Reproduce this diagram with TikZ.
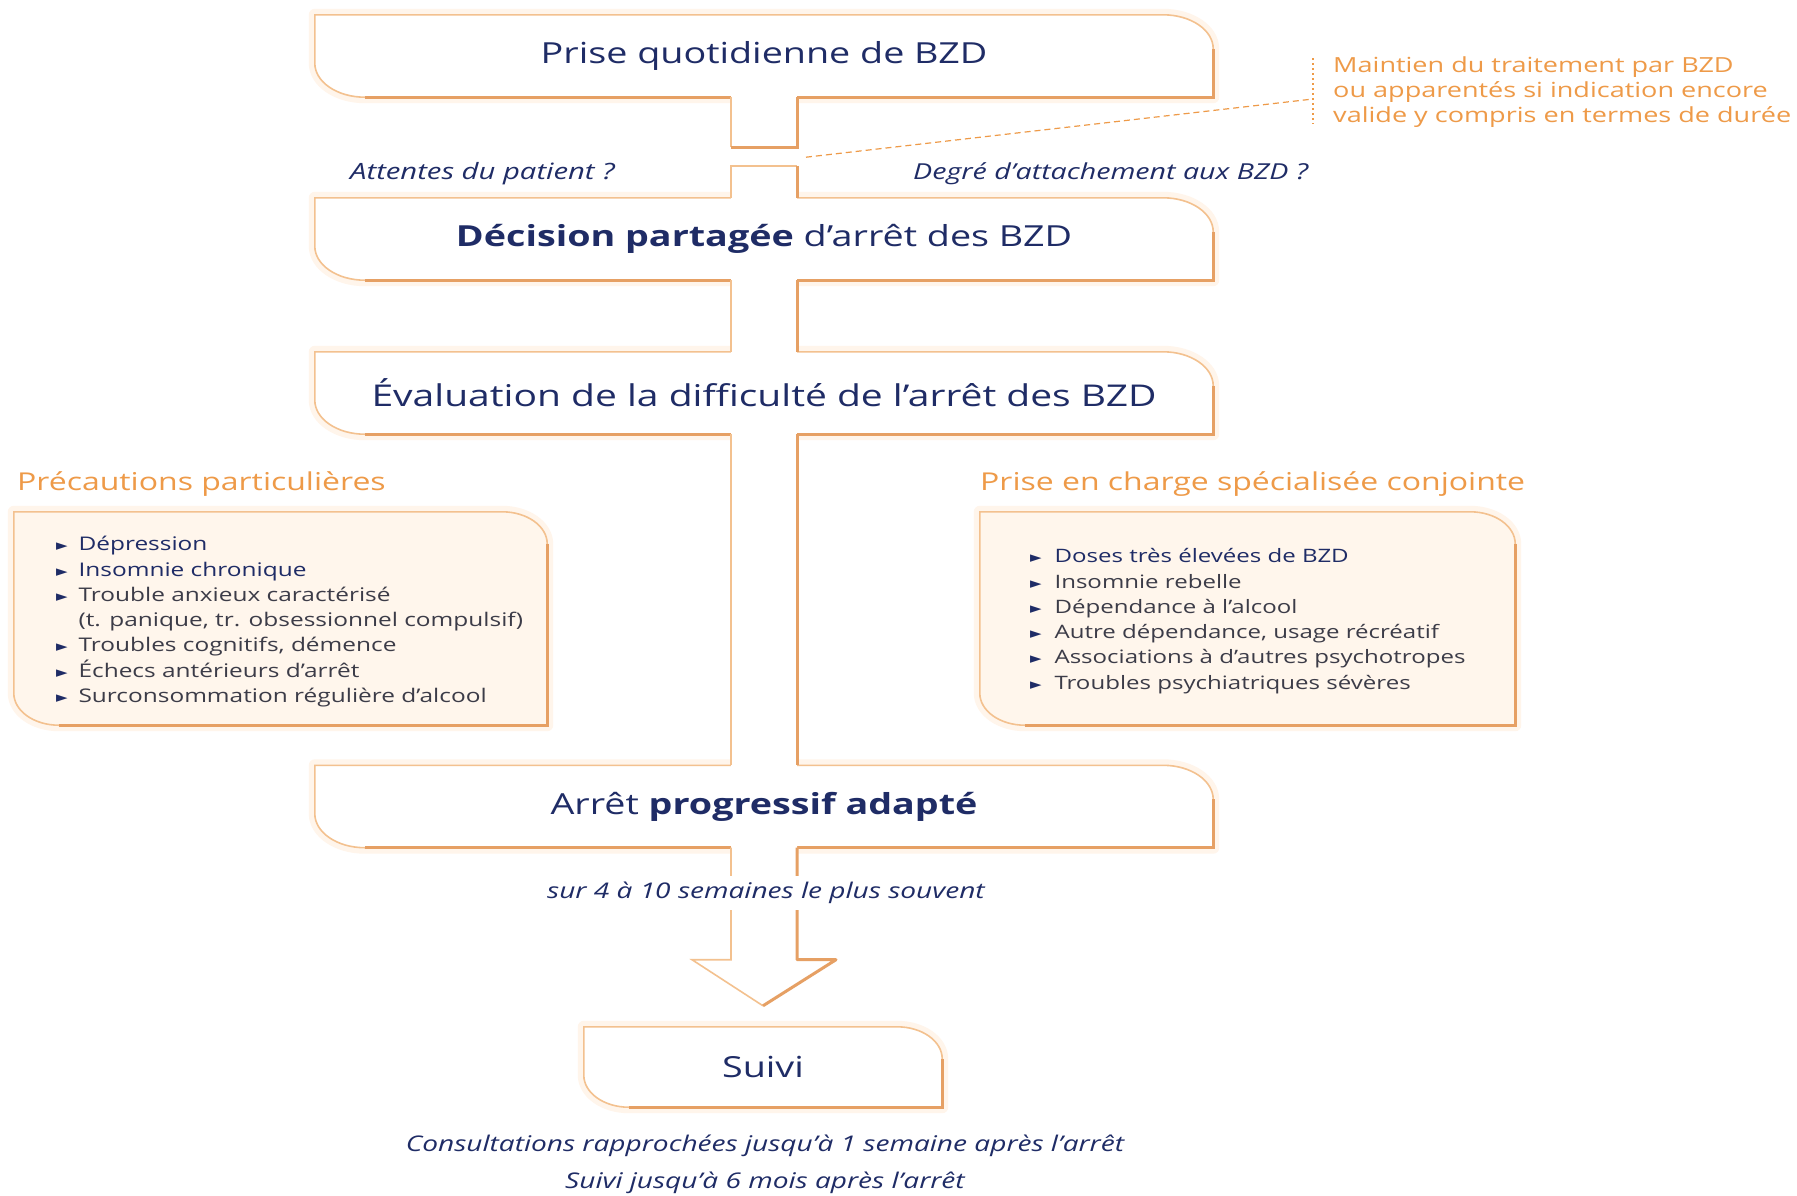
\documentclass[tikz,border=0pt]{standalone}
\usepackage{fontspec}
\setmainfont{Open Sans}[FakeStretch=1.3]
\newfontfamily\symf{DejaVu Sans}
\usetikzlibrary{calc,backgrounds}

\definecolor{navy}{HTML}{1F2C66}
\definecolor{orl}{HTML}{F3C18F}
\definecolor{ord}{HTML}{E6A064}
\definecolor{ort}{HTML}{EE9A48}
\definecolor{peach}{HTML}{FFF6EC}
\definecolor{gtx}{HTML}{3C3C48}

\newcommand\leafbox[4]{%
  \path[draw=orange!8, line width=12pt, line join=round] (#1.north west) -- ($(#1.north east)+(-#2,0)$) arc[start angle=90,end angle=0,x radius=#2,y radius=#3] -- (#1.south east) -- ($(#1.south west)+(#2,0)$) arc[start angle=270,end angle=180,x radius=#2,y radius=#3] -- cycle;
  \path[fill=#4, draw=orl, line width=1.6pt] (#1.north west) -- ($(#1.north east)+(-#2,0)$) arc[start angle=90,end angle=0,x radius=#2,y radius=#3] -- (#1.south east) -- ($(#1.south west)+(#2,0)$) arc[start angle=270,end angle=180,x radius=#2,y radius=#3] -- cycle;
  \draw[ord, line width=3pt] ($(#1.north east)+(0,-#3)$) -- (#1.south east) -- ($(#1.south west)+(#2,0)$);
}
\newcommand\bul{{\symf\fontsize{15}{15}\selectfont\textcolor{navy}{►}}}

\begin{document}
\begin{tikzpicture}[x=1pt,y=1pt,
  mainbox/.style={minimum width=898pt, minimum height=82pt, inner sep=0pt, text=navy, font=\fontsize{29}{34}\selectfont},
  sidebox/.style={minimum height=213pt, inner sep=0pt},
  lbl/.style={inner sep=0pt, text=navy, font=\fontsize{21.6}{26}\selectfont\itshape},
  ttl/.style={inner sep=0pt, text=ort, font=\fontsize{24.6}{29}\selectfont},
  lst/.style={inner sep=0pt, anchor=north west, text=gtx, font=\fontsize{18.5}{25.3}\selectfont},
  thinl/.style={orl, line width=1.6pt},
  thickl/.style={ord, line width=3pt}]
\useasboundingbox (0,0) rectangle (1797,-1195);

% main boxes
\node[mainbox] (b1) at (764,-56) {Prise quotidienne de BZD};
\node[mainbox] (b2) at (764,-239) {\textbf{Décision partagée} d'arrêt des BZD};
\node[mainbox, font=\fontsize{30}{34}\selectfont] (b3) at (764,-393) {Évaluation de la difficulté de l'arrêt des BZD};
\node[mainbox] (b4) at (764,-806.5) {Arrêt \textbf{progressif adapté}};
\node[mainbox, minimum width=358pt, minimum height=80pt] (b5) at (763,-1067) {Suivi};

% side boxes
\node[sidebox, minimum width=533pt] (sl) at (280.5,-618.5) {};
\node[sidebox, minimum width=535pt] (sr) at (1247.5,-618.5) {};
\node[ttl, anchor=west] (tl) at (17,-484) {Précautions particulières};
\node[ttl, anchor=west] (tr) at (980,-484) {Prise en charge spécialisée conjointe};

\node[lst, font=\fontsize{18.8}{25.3}\selectfont] (ll) at ($(sl.north west)+(42,-21)$) {\begin{tabular}{@{}l@{\hspace{11pt}}l@{}}
\bul & \textcolor{navy}{Dépression}\\
\bul & \textcolor{navy}{Insomnie chronique}\\
\bul & Trouble anxieux caractérisé\\
 & (t. panique, tr. obsessionnel compulsif)\\
\bul & Troubles cognitifs, démence\\
\bul & Échecs antérieurs d'arrêt\\
\bul & Surconsommation régulière d'alcool
\end{tabular}};
\node[lst] (rl) at ($(sr.north west)+(50,-33)$) {\begin{tabular}{@{}l@{\hspace{13pt}}l@{}}
\bul & \textcolor{navy}{Doses très élevées de BZD}\\
\bul & Insomnie rebelle\\
\bul & Dépendance à l'alcool\\
\bul & Autre dépendance, usage récréatif\\
\bul & Associations à d'autres psychotropes\\
\bul & Troubles psychiatriques sévères
\end{tabular}};

% labels
\node[lbl, anchor=west, font=\fontsize{22.5}{26}\selectfont\itshape] (q1) at (350,-174) {Attentes du patient ?};
\node[lbl, anchor=west, font=\fontsize{22}{26}\selectfont\itshape] (q2) at (913,-174) {Degré d'attachement aux BZD ?};
\node[lbl, fill=white, inner xsep=4pt, inner ysep=6pt] (dur) at (766,-893) {sur 4 à 10 semaines le plus souvent};
\node[lbl] (c1) at (765,-1146) {Consultations rapprochées jusqu'à 1 semaine après l'arrêt};
\node[lbl] (c2) at (765,-1183) {Suivi jusqu'à 6 mois après l'arrêt};

% maintien
\node[inner sep=0pt, anchor=north west, align=left, text=ort, font=\fontsize{20.8}{25}\selectfont] (mt) at (1333,-56) {Maintien du traitement par BZD\\ ou apparentés si indication encore\\ valide y compris en termes de durée};
\coordinate (mbt) at ($(mt.north west)+(-20,-2)$);
\coordinate (mbb) at ($(mt.south west)+(-20,4)$);
\coordinate (mend) at ($(mt.north west)+(-20,-43)$);
\coordinate (dstart) at ($(b1.south)+(42,-60)$);
\draw[ort, line width=1.2pt, dash pattern=on 2pt off 3pt] (mbt) -- (mbb);
\draw[ort, line width=1.2pt, dash pattern=on 6pt off 4pt] (dstart) -- (mend);

\begin{pgfonlayer}{background}
\fill[white] (0,0) rectangle (1797,-1195);
\leafbox{b1}{50}{34}{white}
\leafbox{b2}{50}{34}{white}
\leafbox{b3}{50}{34}{white}
\leafbox{b4}{50}{34}{white}
\leafbox{b5}{45}{32}{white}
\leafbox{sl}{45}{32}{peach}
\leafbox{sr}{45}{32}{peach}

% stem b1 -> gap
\coordinate (s1b) at ($(b1.south)+(0,-50)$);
\fill[white] ($(b1.south)+(-33,4)$) rectangle ($(s1b)+(33,0)$);
\draw[thinl] ($(b1.south)+(-33,0)$) -- ($(s1b)+(-33,0)$);
\draw[thickl] ($(s1b)+(-33,0)$) -- ($(s1b)+(33,0)$) -- ($(b1.south)+(33,0)$);
% stem gap -> b2
\coordinate (s2t) at ($(b2.north)+(0,32)$);
\fill[white] ($(s2t)+(-33,0)$) rectangle ($(b2.north)+(33,-4)$);
\draw[thinl] ($(b2.north)+(-33,0)$) -- ($(s2t)+(-33,0)$) -- ($(s2t)+(33,0)$);
\draw[thickl] ($(s2t)+(33,0)$) -- ($(b2.north)+(33,0)$);
% stem b2 -> b3
\fill[white] ($(b2.south)+(-33,4)$) rectangle ($(b3.north)+(33,-4)$);
\draw[thinl] ($(b2.south)+(-33,0)$) -- ($(b3.north)+(-33,0)$);
\draw[thickl] ($(b2.south)+(33,0)$) -- ($(b3.north)+(33,0)$);
% stem b3 -> b4
\fill[white] ($(b3.south)+(-33,4)$) rectangle ($(b4.north)+(33,-4)$);
\draw[thinl] ($(b3.south)+(-33,0)$) -- ($(b4.north)+(-33,0)$);
\draw[thickl] ($(b3.south)+(33,0)$) -- ($(b4.north)+(33,0)$);
% arrow b4 -> b5
\coordinate (ab) at ($(b4.south)+(0,-112)$);
\coordinate (tip) at ($(b5.north)+(0,21)$);
\fill[white] ($(b4.south)+(-33,4)$) -- ($(ab)+(-33,0)$) -- ($(ab)+(-72,0)$) -- (tip) -- ($(ab)+(72,0)$) -- ($(ab)+(33,0)$) -- ($(b4.south)+(33,4)$) -- cycle;
\draw[thinl] ($(b4.south)+(-33,0)$) -- ($(ab)+(-33,0)$) -- ($(ab)+(-72,0)$) -- (tip);
\draw[thickl, line join=round] (tip) -- ($(ab)+(72,0)$) -- ($(ab)+(33,0)$) -- ($(b4.south)+(33,0)$);
\end{pgfonlayer}
\end{tikzpicture}
\end{document}
